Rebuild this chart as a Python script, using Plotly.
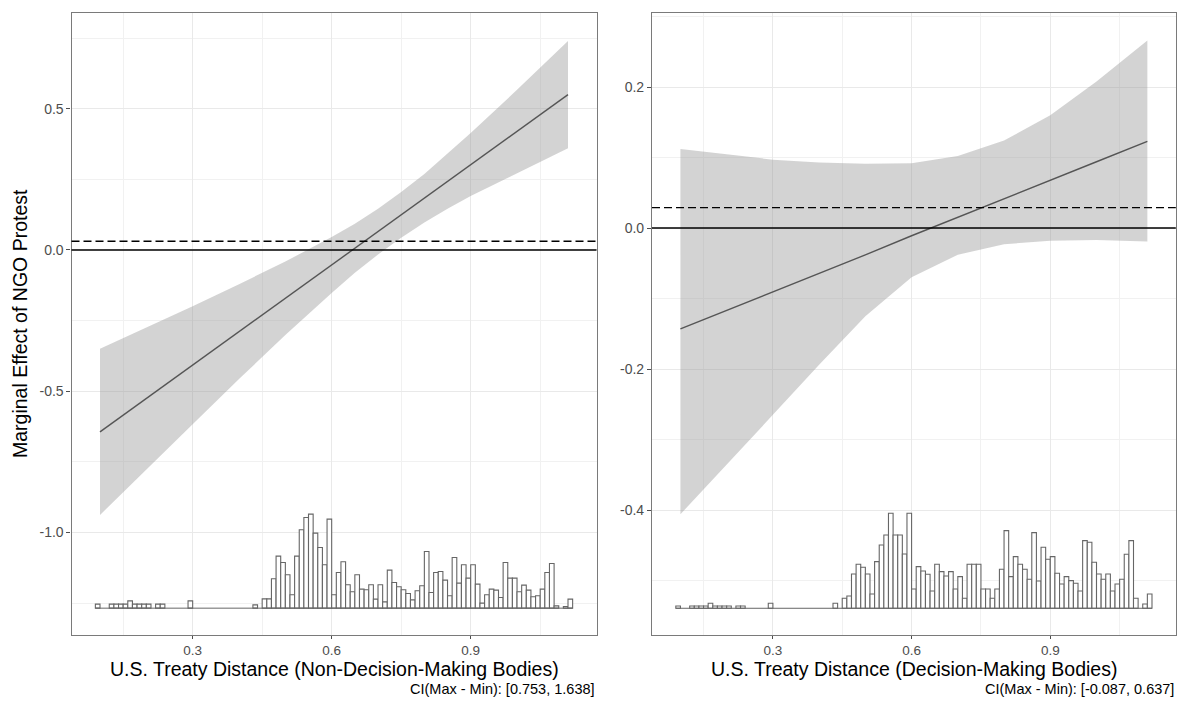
import plotly.graph_objects as go
import numpy as np

W, H = 1180, 710

# ---------------- data ----------------
# marginal effect line and 95% band (left: non-decision-making bodies)
left_x = [0.10, 0.20, 0.30, 0.40, 0.50, 0.60, 0.65, 0.70, 0.75, 0.80, 0.85, 0.90, 1.00, 1.11]
left_eff = [-0.644, -0.526, -0.408, -0.289, -0.171, -0.053, 0.006, 0.065, 0.124, 0.183, 0.243, 0.302, 0.420, 0.550]
left_upper = [-0.350, -0.275, -0.199, -0.121, -0.041, 0.046, 0.093, 0.146, 0.205, 0.269, 0.340, 0.414, 0.567, 0.740]
left_lower = [-0.938, -0.777, -0.617, -0.457, -0.301, -0.152, -0.081, -0.016, 0.043, 0.097, 0.146, 0.191, 0.273, 0.360]

# right: decision-making bodies
right_x = [0.10, 0.20, 0.30, 0.40, 0.50, 0.60, 0.70, 0.80, 0.90, 1.00, 1.11]
right_eff = [-0.143, -0.117, -0.090, -0.064, -0.038, -0.011, 0.015, 0.041, 0.068, 0.094, 0.123]
right_upper = [0.112, 0.104, 0.097, 0.093, 0.091, 0.092, 0.102, 0.124, 0.160, 0.208, 0.266]
right_lower = [-0.406, -0.335, -0.265, -0.194, -0.125, -0.070, -0.038, -0.023, -0.018, -0.017, -0.019]

# reference lines (dashed)
left_dash = 0.031
right_dash = 0.029

# histogram of the moderator (relative frequency, bins of width 0.01 from 0.09)
hist_start = 0.09
hist_width = 0.01
left_hist = [
    1.2, 0, 0, 1.2, 1.2, 1.2, 1.2, 2.2, 1.2, 1.2,
    1.2, 1.2, 0, 1.2, 1.2, 0, 0, 0, 0, 0,
    2.2, 0, 0, 0, 0, 0, 0, 0, 0, 0,
    0, 0, 0, 0, 1.0, 0, 2.8, 2.8, 8.8, 15.6,
    13.7, 10.0, 4.0, 15.6, 23.5, 27.2, 28.2, 22.5, 18.2, 13.0,
    26.7, 4.0, 10.7, 13.9, 7.0, 4.9, 10.0, 5.7, 5.5, 7.0,
    2.7, 7.0, 1.9, 11.4, 7.7, 6.4, 5.5, 4.4, 2.5, 5.2,
    6.7, 17.0, 4.7, 10.7, 11.0, 8.4, 3.7, 15.2, 7.5, 13.0,
    9.0, 13.0, 7.2, 1.5, 4.0, 5.7, 5.4, 3.2, 13.7, 9.0,
    9.0, 4.9, 6.9, 5.4, 3.4, 3.7, 5.7, 10.7, 13.4, 0.7,
    0, 0.5, 2.7,
]
right_hist = [
    0.7, 0, 0, 0.7, 0.7, 0.7, 0.7, 1.5, 0.7, 0.7,
    0.7, 0.7, 0, 0.7, 0.7, 0, 0, 0, 0, 0,
    1.5, 0, 0, 0, 0, 0, 0, 0, 0, 0,
    0, 0, 0, 0, 1.5, 0, 3.0, 3.7, 10.3, 13.2,
    12.3, 10.3, 4.3, 14.0, 19.0, 22.0, 28.5, 22.0, 22.0, 16.3,
    28.5, 5.8, 12.5, 11.2, 10.2, 5.2, 13.2, 11.0, 9.7, 11.0,
    5.8, 9.5, 3.0, 13.2, 13.2, 13.2, 5.8, 5.8, 3.0, 5.8,
    11.7, 23.3, 9.5, 15.5, 13.2, 11.7, 8.7, 22.7, 8.2, 18.3,
    14.7, 15.5, 10.5, 7.3, 9.5, 8.3, 7.5, 5.2, 20.3, 19.8,
    13.8, 10.3, 8.7, 10.3, 5.2, 7.3, 8.7, 16.2, 20.3, 3.0,
    0, 1.3, 4.3,
]

# where the histogram sits inside each panel (data units)
left_hist_base, left_hist_top = -1.268, -0.935
right_hist_base, right_hist_top = -0.5394, -0.4047

# ticks / labels
x_ticks = [0.3, 0.6, 0.9]
x_ticktext = ["0.3", "0.6", "0.9"]
x_minor = [0.15, 0.45, 0.75, 1.05]
left_y_ticks = [-1.0, -0.5, 0.0, 0.5]
left_y_ticktext = ["-1.0", "-0.5", "0.0", "0.5"]
left_y_minor = [-1.25, -0.75, -0.25, 0.25, 0.75]
right_y_ticks = [-0.4, -0.2, 0.0, 0.2]
right_y_ticktext = ["-0.4", "-0.2", "0.0", "0.2"]
right_y_minor = [-0.5, -0.3, -0.1, 0.1, 0.3]

left_title = "U.S. Treaty Distance (Non-Decision-Making Bodies)"
right_title = "U.S. Treaty Distance (Decision-Making Bodies)"
left_caption = "CI(Max - Min): [0.753, 1.638]"
right_caption = "CI(Max - Min): [-0.087, 0.637]"
y_title = "Marginal Effect of NGO Protest"

# ---------------- styling ----------------
FONT = "Liberation Sans, Arial, Helvetica, sans-serif"
BAND = "rgba(150,150,150,0.42)"
LINE = "#555555"
HIST_LINE = "#666666"
GRID = "#e9e9e9"
GRID_MINOR = "#f1f1f1"
BORDER = "#7a7a7a"
TICK_SIZE = 13.5
TITLE_SIZE = 19.5
CAPTION_SIZE = 14.5


def px_x(p):
    return p / W


def px_y(p):
    return 1 - p / H


fig = go.Figure()


def add_panel(xa, ya, xs, eff, up, lo, hist, hbase, htop):
    # band
    fig.add_trace(go.Scatter(
        x=list(xs) + list(xs)[::-1], y=list(up) + list(lo)[::-1],
        fill="toself", fillcolor=BAND, line=dict(width=0), mode="lines",
        hoverinfo="skip", showlegend=False, xaxis=xa, yaxis=ya))
    # effect line
    fig.add_trace(go.Scatter(
        x=xs, y=eff, mode="lines", line=dict(color=LINE, width=1.4),
        showlegend=False, xaxis=xa, yaxis=ya))
    # histogram
    h = np.array(hist, dtype=float)
    scale = (htop - hbase) / h.max()
    centers = hist_start + hist_width * (np.arange(len(h)) + 0.5)
    fig.add_trace(go.Scatter(
        x=[hist_start, hist_start + hist_width * len(h)], y=[hbase, hbase],
        mode="lines", line=dict(color=HIST_LINE, width=1),
        showlegend=False, xaxis=xa, yaxis=ya))
    mask = h > 0
    fig.add_trace(go.Bar(
        x=centers[mask], y=h[mask] * scale, base=hbase, width=hist_width,
        marker=dict(color="white", line=dict(color=HIST_LINE, width=1.1)),
        showlegend=False, xaxis=xa, yaxis=ya))


add_panel("x", "y", left_x, left_eff, left_upper, left_lower, left_hist,
          left_hist_base, left_hist_top)
add_panel("x2", "y2", right_x, right_eff, right_upper, right_lower, right_hist,
          right_hist_base, right_hist_top)


def xaxis_cfg(domain, anchor):
    return dict(
        domain=domain, anchor=anchor, range=[0.0385, 1.1715],
        tickmode="array", tickvals=x_ticks, ticktext=x_ticktext,
        showgrid=True, gridcolor=GRID, gridwidth=1.2,
        minor=dict(tickmode="array", tickvals=x_minor, showgrid=True,
                   gridcolor=GRID_MINOR, gridwidth=0.8, ticks=""),
        showline=True, linecolor=BORDER, linewidth=1.2, mirror=True,
        ticks="outside", ticklen=3, tickcolor="#4d4d4d", tickwidth=1,
        tickfont=dict(family=FONT, size=TICK_SIZE, color="#4d4d4d"),
        zeroline=False, fixedrange=True,
    )


def yaxis_cfg(domain, anchor, rng, tv, tt, minor):
    return dict(
        domain=domain, anchor=anchor, range=rng,
        tickmode="array", tickvals=tv, ticktext=tt,
        showgrid=True, gridcolor=GRID, gridwidth=1.2,
        minor=dict(tickmode="array", tickvals=minor, showgrid=True,
                   gridcolor=GRID_MINOR, gridwidth=0.8, ticks=""),
        showline=True, linecolor=BORDER, linewidth=1.2, mirror=True,
        ticks="outside", ticklen=4, tickcolor="#4d4d4d", tickwidth=1,
        tickfont=dict(family=FONT, size=TICK_SIZE + 0.5, color="#4d4d4d"),
        zeroline=False, fixedrange=True,
    )


ydom = [px_y(635), px_y(13)]
fig.update_layout(
    width=W, height=H,
    margin=dict(l=0, r=0, t=0, b=0),
    paper_bgcolor="white", plot_bgcolor="white",
    font=dict(family=FONT, color="black"),
    showlegend=False, barmode="overlay",
    xaxis=xaxis_cfg([px_x(71.5), px_x(596.5)], "y"),
    yaxis=yaxis_cfg(ydom, "x", [-1.363, 0.839], left_y_ticks, left_y_ticktext, left_y_minor),
    xaxis2=xaxis_cfg([px_x(652), px_x(1175.8)], "y2"),
    yaxis2=yaxis_cfg(ydom, "x2", [-0.5773, 0.305], right_y_ticks, right_y_ticktext, right_y_minor),
)

shapes = []
for xr, yr, dv in [("x domain", "y", left_dash), ("x2 domain", "y2", right_dash)]:
    shapes.append(dict(type="line", xref=xr, yref=yr, x0=0, x1=1, y0=0, y1=0,
                       line=dict(color="black", width=1.6)))
    shapes.append(dict(type="line", xref=xr, yref=yr, x0=0, x1=1, y0=dv, y1=dv,
                       line=dict(color="black", width=1.3, dash="8px,4px")))
fig.update_layout(shapes=shapes)

annotations = [
    dict(text=left_title, xref="x domain", x=0.5, yref="paper", y=px_y(669),
         xanchor="center", yanchor="middle", showarrow=False,
         font=dict(family=FONT, size=TITLE_SIZE, color="black")),
    dict(text=right_title, xref="x2 domain", x=0.5, yref="paper", y=px_y(669),
         xanchor="center", yanchor="middle", showarrow=False,
         font=dict(family=FONT, size=TITLE_SIZE, color="black")),
    dict(text=left_caption, xref="x domain", x=1.0, yref="paper", y=px_y(689),
         xanchor="right", yanchor="middle", showarrow=False,
         font=dict(family=FONT, size=CAPTION_SIZE, color="black")),
    dict(text=right_caption, xref="x2 domain", x=1.0, yref="paper", y=px_y(689),
         xanchor="right", yanchor="middle", showarrow=False,
         font=dict(family=FONT, size=CAPTION_SIZE, color="black")),
    dict(text=y_title, xref="paper", x=px_x(20), yref="paper", y=px_y(324),
         xanchor="center", yanchor="middle", textangle=-90, showarrow=False,
         font=dict(family=FONT, size=TITLE_SIZE, color="black")),
]
fig.update_layout(annotations=annotations)

fig.write_html("out.html")
